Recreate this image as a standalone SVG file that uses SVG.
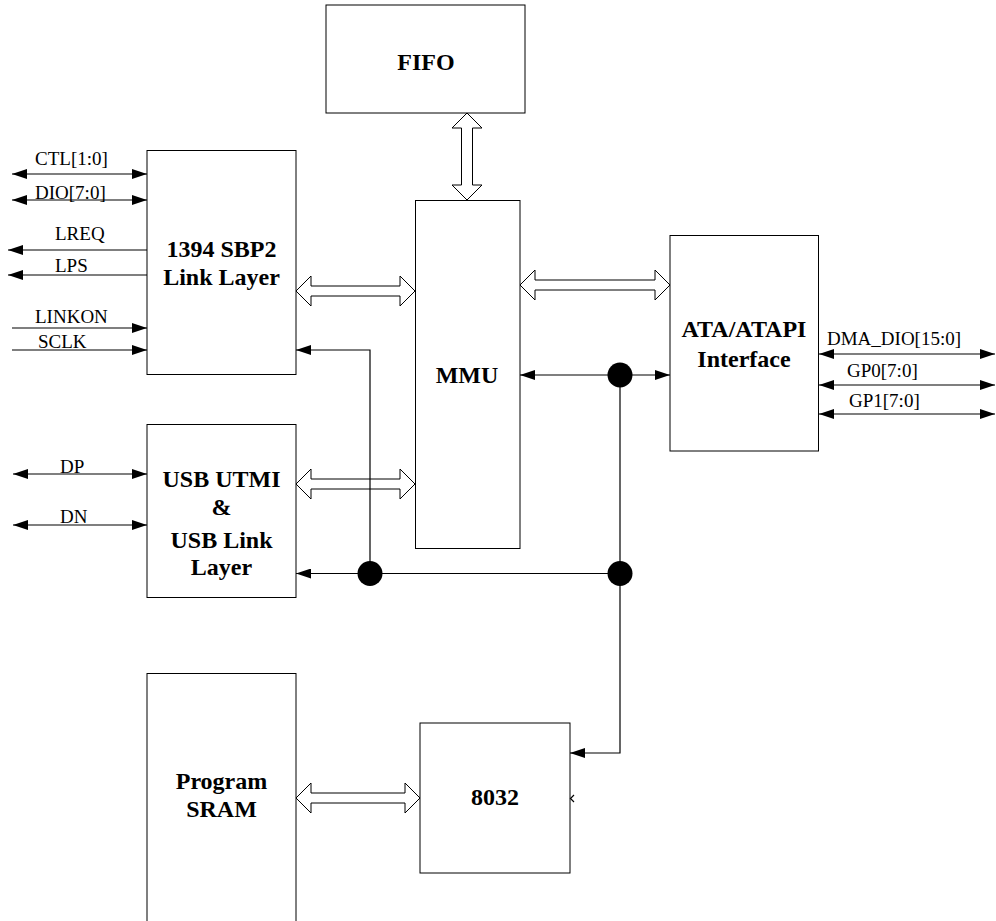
<svg xmlns="http://www.w3.org/2000/svg" width="996" height="921" viewBox="0 0 996 921">
<style>
.box{fill:#fff;stroke:#000;stroke-width:1}
.ln{fill:none;stroke:#000;stroke-width:1.2}
.fat{fill:#fff;stroke:#000;stroke-width:1}
.t{font-weight:bold;font-size:24px;text-anchor:middle;fill:#000}
.s{font-size:19px;fill:#000}
.dot{fill:#000}
</style>
<defs>
<marker id="ah" viewBox="0 0 15 10" refX="15" refY="5" markerWidth="15" markerHeight="10" markerUnits="userSpaceOnUse" orient="auto-start-reverse">
<path d="M0,0 L15,5 L0,10 Z" fill="#000"/>
</marker>
</defs>
<rect width="996" height="921" fill="#fff"/>
<g font-family="Liberation Serif, DejaVu Serif, Times New Roman, serif">
<g id="fifo"><rect class="box" x="326" y="5" width="199" height="108"/><text class="t" x="426" y="70">FIFO</text></g>
<g id="mmu"><rect class="box" x="415.5" y="200.5" width="104.5" height="348"/><text class="t" x="467" y="383">MMU</text></g>
<g id="link1394"><rect class="box" x="147" y="150.5" width="149" height="224"/><text class="t" x="221.5" y="257">1394 SBP2</text><text class="t" x="221.5" y="285">Link Layer</text></g>
<g id="usb"><rect class="box" x="147" y="424.5" width="149" height="173"/><text class="t" x="221.5" y="487">USB UTMI</text><text class="t" x="221.5" y="515">&amp;</text><text class="t" x="221.5" y="548">USB Link</text><text class="t" x="221.5" y="575">Layer</text></g>
<g id="sram"><rect class="box" x="147" y="673.5" width="149" height="260"/><text class="t" x="221.5" y="789">Program</text><text class="t" x="221.5" y="817">SRAM</text></g>
<g id="cpu8032"><rect class="box" x="420" y="723" width="150" height="150"/><text class="t" x="495" y="805">8032</text><polyline class="ln" points="574,795 570.5,798.5 574,802" stroke-width="1"/></g>
<g id="ata"><rect class="box" x="670" y="235.5" width="148.5" height="215.5"/><text class="t" x="744" y="337">ATA/ATAPI</text><text class="t" x="744" y="367">Interface</text></g>

<g id="connectors">
<polygon class="fat" points="467,113 482,128 472.5,128 472.5,185 482,185 467,200 452,185 461.5,185 461.5,128 452,128"/>
<polygon class="fat" points="296,291 311,276 311,286 400,286 400,276 415,291 400,306 400,296 311,296 311,306"/>
<polygon class="fat" points="520,285 535,270 535,280 655,280 655,270 670,285 655,300 655,290 535,290 535,300"/>
<polygon class="fat" points="296,484 311,469 311,479 400,479 400,469 415,484 400,499 400,489 311,489 311,499"/>
<polygon class="fat" points="296,798 311,783 311,793 405,793 405,783 420,798 405,813 405,803 311,803 311,813"/>

<line class="ln" x1="12" y1="174" x2="147" y2="174" marker-start="url(#ah)" marker-end="url(#ah)"/>
<line class="ln" x1="12" y1="200" x2="147" y2="200" marker-start="url(#ah)" marker-end="url(#ah)"/>
<line class="ln" x1="147" y1="250" x2="8" y2="250" marker-end="url(#ah)"/>
<line class="ln" x1="147" y1="275" x2="8" y2="275" marker-end="url(#ah)"/>
<line class="ln" x1="12" y1="328" x2="147" y2="328" marker-end="url(#ah)"/>
<line class="ln" x1="12" y1="350" x2="147" y2="350" marker-end="url(#ah)"/>
<line class="ln" x1="13" y1="474" x2="147" y2="474" marker-start="url(#ah)" marker-end="url(#ah)"/>
<line class="ln" x1="13" y1="525" x2="147" y2="525" marker-start="url(#ah)" marker-end="url(#ah)"/>
<line class="ln" x1="819" y1="354" x2="995" y2="354" marker-start="url(#ah)" marker-end="url(#ah)"/>
<line class="ln" x1="819" y1="385" x2="995" y2="385" marker-start="url(#ah)" marker-end="url(#ah)"/>
<line class="ln" x1="819" y1="414" x2="995" y2="414" marker-start="url(#ah)" marker-end="url(#ah)"/>

<line class="ln" x1="520" y1="375" x2="670" y2="375" marker-start="url(#ah)" marker-end="url(#ah)"/>
<polyline class="ln" points="620,375 620,753 570,753" marker-end="url(#ah)"/>
<line class="ln" x1="620" y1="573.5" x2="296" y2="573.5" marker-end="url(#ah)"/>
<polyline class="ln" points="370,573.5 370,350 296,350" marker-end="url(#ah)"/>
<circle class="dot" cx="620" cy="375" r="12.5"/>
<circle class="dot" cx="620" cy="573.5" r="12.5"/>
<circle class="dot" cx="370" cy="573.5" r="12.5"/>
</g>

<g id="labels">
<text class="s" x="35" y="165">CTL[1:0]</text>
<text class="s" x="35" y="199">DIO[7:0]</text>
<text class="s" x="55" y="240">LREQ</text>
<text class="s" x="55" y="272">LPS</text>
<text class="s" x="35" y="323">LINKON</text>
<text class="s" x="38" y="348">SCLK</text>
<text class="s" x="60" y="473">DP</text>
<text class="s" x="60" y="523">DN</text>
<text class="s" x="827" y="345">DMA_DIO[15:0]</text>
<text class="s" x="847" y="377">GP0[7:0]</text>
<text class="s" x="849" y="407">GP1[7:0]</text>
</g>
</g>
</svg>
